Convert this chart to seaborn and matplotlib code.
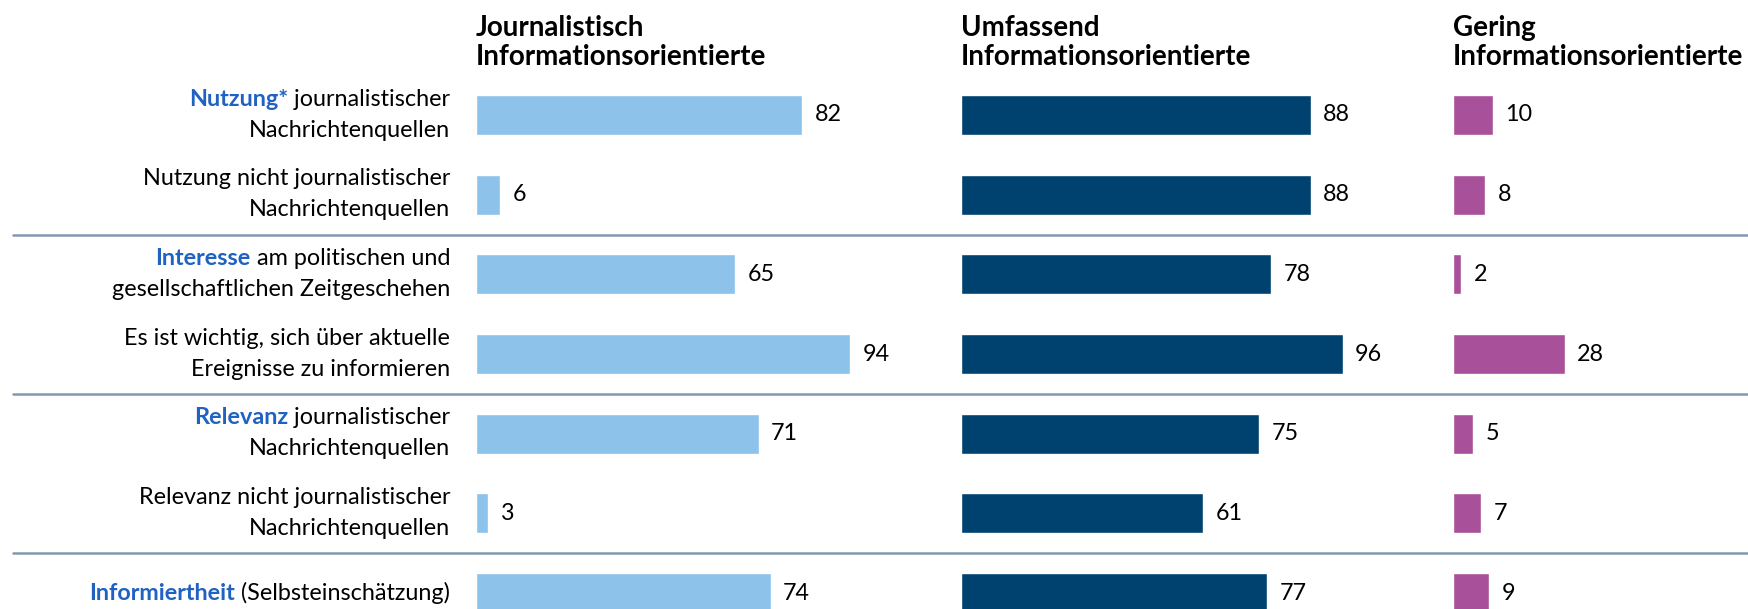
import matplotlib
matplotlib.use('Agg')
import pandas as pd
import seaborn as sns
import matplotlib.pyplot as plt

# --- data ---
highlight = ['Nutzung*', '', 'Interesse', '', 'Relevanz', '', 'Informiertheit']
line1 = [' journalistischer', 'Nutzung nicht journalistischer', ' am politischen und',
         'Es ist wichtig, sich über aktuelle', ' journalistischer',
         'Relevanz nicht journalistischer', ' (Selbsteinschätzung)']
line2 = ['Nachrichtenquellen', 'Nachrichtenquellen', 'gesellschaftlichen Zeitgeschehen',
         'Ereignisse zu informieren', 'Nachrichtenquellen', 'Nachrichtenquellen', '']

journalistisch = [82, 6, 65, 94, 71, 3, 74]
umfassend = [88, 88, 78, 96, 75, 61, 77]
gering = [10, 8, 2, 28, 5, 7, 9]

titles = ['Journalistisch\nInformationsorientierte',
          'Umfassend\nInformationsorientierte',
          'Gering\nInformationsorientierte']
colours = ['#8DC2EA', '#00426F', '#A8509A']
blue_text = '#1F62C2'
sep_colour = '#8497B0'

df = pd.DataFrame({
    'label': [h + a + '\n' + b for h, a, b in zip(highlight, line1, line2)],
    'journalistisch': journalistisch,
    'umfassend': umfassend,
    'gering': gering,
})

sns.set_theme(style='white')
plt.rcParams['font.family'] = ['Lato', 'DejaVu Sans']

fig = plt.figure(figsize=(17.49, 6.09), dpi=100)
ylim = (6.2, -1.443)
fs = 16.8

# background axes for the row labels and separators
bg = fig.add_axes([0, 0, 1, 1])
bg.set_xlim(0, 1)
bg.set_ylim(ylim)
bg.axis('off')
for y in [1.5, 3.5, 5.5]:
    bg.axhline(y, xmin=0.0075, xmax=1, color=sep_colour, lw=1.8)

lab_x = 0.2573
for i, (h, a, b) in enumerate(zip(highlight, line1, line2)):
    y1 = i - 0.2 if b else i
    t = bg.text(lab_x, y1, a, ha='right', va='center', fontsize=fs, color='black')
    if h:
        bg.annotate(h, xy=(0, 0.5), xycoords=t, ha='right', va='center',
                    fontsize=fs, color=blue_text, fontweight='bold')
    if b:
        bg.text(lab_x, i + 0.19, b, ha='right', va='center', fontsize=fs, color='black')

lefts = [0.2722, 0.5492, 0.8308]
cols = ['journalistisch', 'umfassend', 'gering']
for left, col, colour, title in zip(lefts, cols, colours, titles):
    ax = fig.add_axes([left, 0, 0.2276, 1])
    sns.barplot(data=df, x=col, y='label', order=df['label'], orient='h',
                color=colour, saturation=1, width=0.5, ax=ax)
    ax.set_xlim(0, 100)
    ax.set_ylim(ylim)
    ax.axis('off')
    ax.bar_label(ax.containers[0], padding=9, fontsize=fs, color='black')
    ax.text(0, -0.91, title, ha='left', va='center', fontsize=20,
            fontweight='bold', color='black', linespacing=1.12)

fig.savefig('out.png', dpi=100)
